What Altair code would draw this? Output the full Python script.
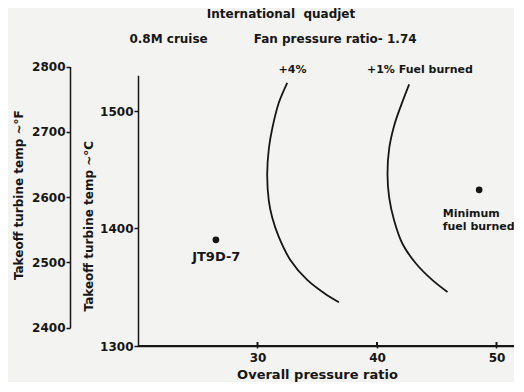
import altair as alt
import pandas as pd

# ---------------- data ----------------
curve4_x = [32.49, 31.79, 31.23, 30.95, 30.81, 30.95, 31.23, 31.79, 32.76, 34.16, 35.56, 36.81]
curve4_y = [1524.0, 1507.2, 1484.9, 1468.1, 1445.7, 1423.3, 1409.4, 1392.6, 1373.0, 1356.2, 1345.1, 1337.2]
curve1_x = [42.69, 42.00, 41.44, 41.02, 40.88, 41.02, 41.44, 42.13, 43.26, 44.64, 45.90]
curve1_y = [1522.7, 1504.4, 1487.7, 1468.1, 1445.7, 1426.2, 1406.5, 1387.0, 1370.2, 1356.0, 1345.9]

point_names = ["JT9D-7", "Minimum fuel burned"]
point_x = [26.52, 48.55]
point_y = [1390.4, 1432.9]

x_ticks = [30, 40, 50]
c_ticks = [1300, 1400, 1500]
f_ticks = [2400, 2500, 2600, 2700, 2800]

label_text = ["+4%", "+1% Fuel burned", "JT9D-7", "Minimum\nfuel burned"]
label_x = [32.93, 39.16, 26.55, 45.50]
label_y = [1535.0, 1535.0, 1375.5, 1412.2]

title_text = "International\u00a0\u00a0quadjet"
subtitle_text = "0.8M cruise" + "\u00a0" * 11 + "Fan pressure ratio- 1.74"

# ---------------- layout / style ----------------
W, H = 376, 279
K = 1.175            # px per degree C
C_TOP = 1530.5
X_MAX = 20 + W / 11.95
FONT = "DejaVu Sans"
INK = "#161616"
BG = "#f3f3f1"


def f_to_px(f):
    c = (f - 32) * 5 / 9
    return H - (c - 1300) * K


x_scale = alt.Scale(domain=[20, X_MAX], nice=False, zero=False)
c_scale = alt.Scale(domain=[1300, C_TOP], range=[H, H - (C_TOP - 1300) * K], nice=False, zero=False)
f_scale = alt.Scale(domain=[2400, 2800], range=[f_to_px(2400), f_to_px(2800)], nice=False, zero=False)

common_axis = dict(
    domainColor=INK, domainWidth=1.5, tickColor=INK, tickWidth=1.5,
    labelFont=FONT, labelFontWeight="bold", labelFontSize=12, labelColor=INK,
    titleFont=FONT, titleFontWeight="bold", titleColor=INK,
    grid=False, format="d",
)

x_axis = alt.Axis(values=x_ticks, tickSize=2, labelPadding=4,
                  title="Overall pressure ratio", titleX=179, titleY=32,
                  titleAlign="center", titleBaseline="alphabetic", titleFontSize=13,
                  **common_axis)
c_axis = alt.Axis(values=c_ticks, tickSize=4, labelPadding=1,
                  title="Takeoff turbine temp ~°C", titleAngle=-90, titleX=-50, titleY=158.7,
                  titleAlign="center", titleBaseline="middle", titleFontSize=12, **common_axis)
f_axis = alt.Axis(values=f_ticks, orient="left", offset=68, tickSize=4, labelPadding=1,
                  title="Takeoff turbine temp ~°F", titleAngle=-90, titleX=-52, titleY=127.7,
                  titleAlign="center", titleBaseline="middle", titleFontSize=12, **common_axis)

df4 = pd.DataFrame({"x": curve4_x, "y": curve4_y, "i": range(len(curve4_x))})
df1 = pd.DataFrame({"x": curve1_x, "y": curve1_y, "i": range(len(curve1_x))})
pts = pd.DataFrame({"name": point_names, "x": point_x, "y": point_y})
tick_top = 1300 + 4 / K
ticks_df = pd.DataFrame({"x": x_ticks, "y": [1300] * 3, "y2": [tick_top] * 3})
base_df = pd.DataFrame({"x": [20], "x2": [X_MAX], "y": [1300]})


def lbl(i):
    return pd.DataFrame({"t": [label_text[i]], "x": [label_x[i]], "y": [label_y[i]]})


X = lambda: alt.X("x:Q", scale=x_scale, axis=x_axis)
Y = lambda: alt.Y("y:Q", scale=c_scale, axis=c_axis)

baseline = alt.Chart(base_df).mark_rule(color=INK, strokeWidth=2).encode(
    x=X(), x2=alt.X2("x2"), y=Y())
xticks = alt.Chart(ticks_df).mark_rule(color=INK, strokeWidth=2).encode(
    x=X(), y=Y(), y2=alt.Y2("y2"))
line4 = alt.Chart(df4).mark_line(interpolate="catmull-rom", color=INK, strokeWidth=1.8).encode(
    x=X(), y=Y(), order="i:Q")
line1 = alt.Chart(df1).mark_line(interpolate="catmull-rom", color=INK, strokeWidth=1.8).encode(
    x=X(), y=Y(), order="i:Q")
dots = alt.Chart(pts).mark_circle(size=45, color=INK, opacity=1).encode(x=X(), y=Y())

txt = dict(font=FONT, fontWeight="bold", color=INK, baseline="middle")
t0 = alt.Chart(lbl(0)).mark_text(align="center", fontSize=11, **txt).encode(x=X(), y=Y(), text="t:N")
t1 = alt.Chart(lbl(1)).mark_text(align="left", fontSize=11, **txt).encode(x=X(), y=Y(), text="t:N")
t2 = alt.Chart(lbl(2)).mark_text(align="center", fontSize=13, **txt).encode(x=X(), y=Y(), text="t:N")
t3 = alt.Chart(lbl(3)).mark_text(align="left", fontSize=11, lineBreak="\n", lineHeight=12.5, **txt).encode(
    x=X(), y=Y(), text="t:N")

# heading lines (annotation text placed in the top padding)
head1 = alt.Chart(pd.DataFrame({"t": [title_text]})).mark_text(align="center", fontSize=12, **txt).encode(
    x=alt.value(143), y=alt.value(-53), text="t:N")
head2 = alt.Chart(pd.DataFrame({"t": [subtitle_text]})).mark_text(align="center", fontSize=12, **txt).encode(
    x=alt.value(135), y=alt.value(-28), text="t:N")

main = alt.layer(line4, line1, dots, t0, t1, t2, t3, head1, head2, baseline, xticks)

f_layer = alt.Chart(pd.DataFrame({"f": f_ticks})).mark_point(opacity=0).encode(
    y=alt.Y("f:Q", scale=f_scale, axis=f_axis))

chart = alt.layer(main, f_layer).resolve_scale(y="independent").properties(
    width=W, height=H,
    autosize=alt.AutoSizeParams(type="none"),
    padding={"left": 130, "top": 59, "right": 0, "bottom": 36},
    background=BG,
).configure_view(stroke=BG, strokeWidth=1)

chart.save("out.html", embed_options={"renderer": "svg", "actions": False})
